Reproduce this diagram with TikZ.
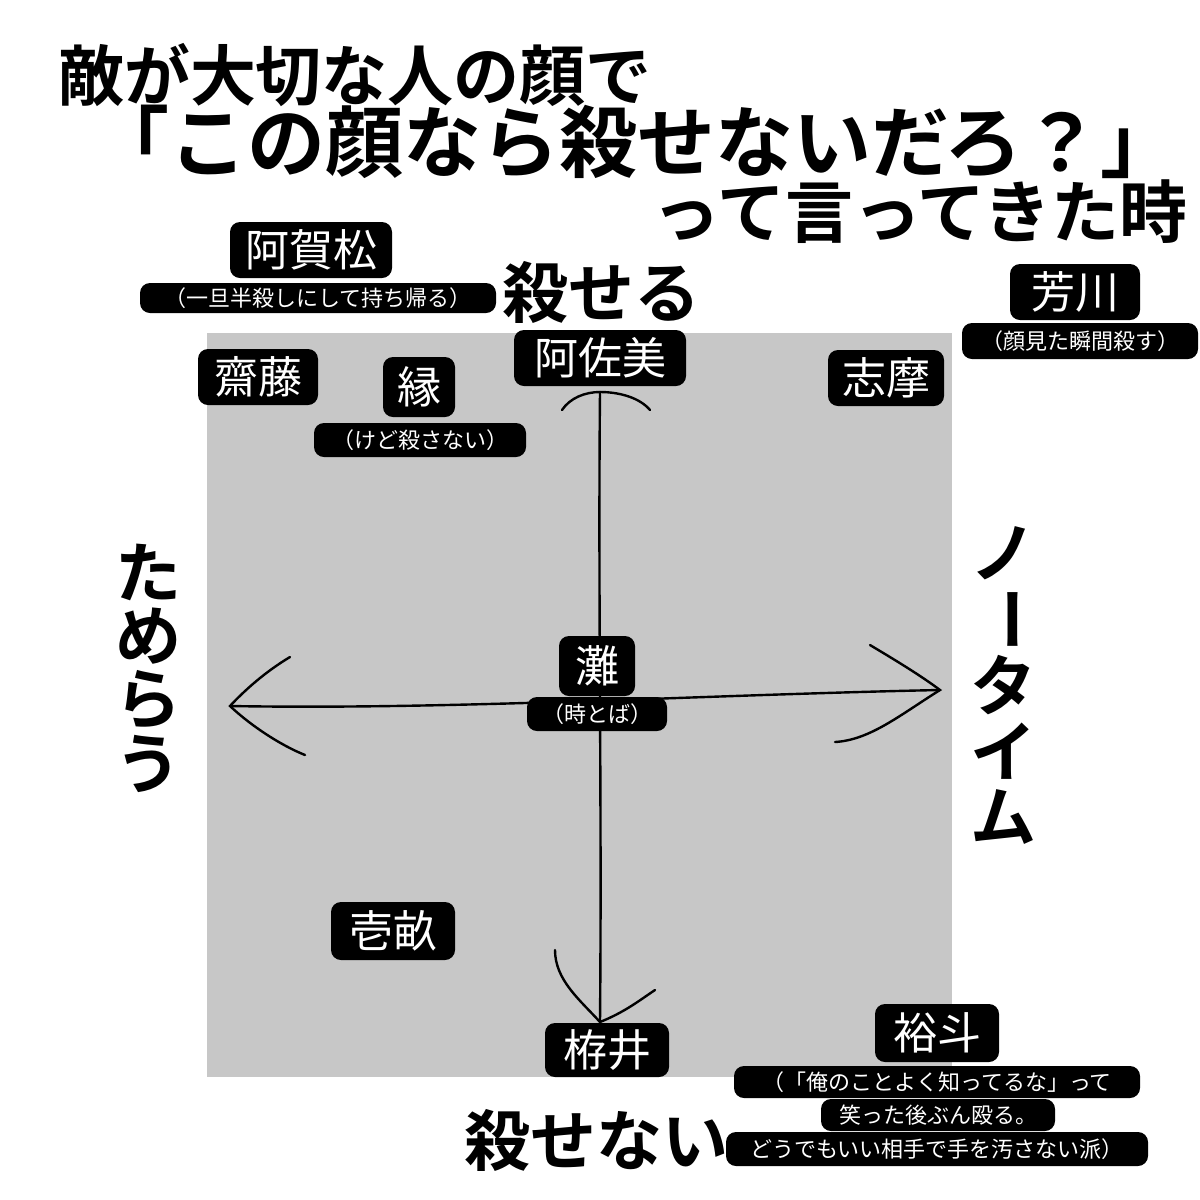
\documentclass[tikz,border=0pt]{standalone}
\usepackage{fontspec}
\setmainfont{Noto Sans CJK JP}[BoldFont={Noto Sans CJK JP Bold}]
\begin{document}
\begin{tikzpicture}[x=0.5pt,y=-0.5pt]
\tikzset{
 nm/.style={fill=black,text=white,rounded corners=5pt,font=\fontsize{22}{22}\selectfont,inner sep=0pt},
 sub/.style={fill=black,text=white,rounded corners=5pt,font=\fontsize{11}{11}\selectfont,inner sep=0pt},
 ttl/.style={font=\bfseries\fontsize{33}{33}\selectfont,inner sep=0pt},
 ax/.style={font=\bfseries\fontsize{33}{33}\selectfont,inner sep=0pt},
 arr/.style={line width=1.2pt,line cap=round}
}
\useasboundingbox (0,0) rectangle (1200,1200);
\fill[white] (0,0) rectangle (1200,1200);
\fill[black!22] (207,333) rectangle (952,1077);
% titles
\node[ttl] (t1) at (355,75) {敵が大切な人の顔で};
\node[ttl,font=\bfseries\fontsize{39}{39}\selectfont] (t2) at (635,142) {「この顔なら殺せないだろ？」};
\node[ttl,font=\bfseries\fontsize{34}{34}\selectfont] (t3) at (920,212) {って言ってきた時};
% axis labels
\node[ax] (up) at (601,292) {殺せる};
\node[ax] (dn) at (596,1140) {殺せない};
\foreach \c [count=\i] in {た,め,ら,う}
  \node[ax] (l\i) at (148,508+64*\i) {\c};
\node[ax] (r1) at (1003,553) {ノ};
\node[ax,rotate=-90] (r2) at (1003,619) {ー};
\node[ax] (r3) at (1003,685) {タ};
\node[ax] (r4) at (1003,751) {イ};
\node[ax] (r5) at (1003,817) {ム};
% arrows
\coordinate (vt) at (600,392); \coordinate (vb) at (600,1022);
\coordinate (hl) at (230,706); \coordinate (hr) at (940,690);
\draw[arr] (vt) .. controls (598,600) and (602,800) .. (vb);
\draw[arr] (562,410) .. controls (570,398) and (585,392) .. (vt);
\draw[arr] (650,410) .. controls (640,398) and (620,392) .. (vt);
\draw[arr] (hl) .. controls (450,710) and (700,695) .. (hr);
\draw[arr] (290,657) .. controls (265,672) and (245,690) .. (hl) .. controls (250,725) and (280,745) .. (305,755);
\draw[arr] (870,645) .. controls (895,660) and (920,675) .. (hr) .. controls (900,715) and (870,740) .. (835,742);
\draw[arr] (555,950) .. controls (555,980) and (580,1000) .. (vb);
\draw[arr] (655,990) .. controls (640,1000) and (625,1012) .. (vb);
% names
\node[nm,minimum width=81pt,minimum height=28pt] (agm) at (311,250) {阿賀松};
\node[sub,minimum width=178pt,minimum height=15pt] (agms) at (318,298) {（一旦半殺しにして持ち帰る）};
\node[nm,minimum width=65pt,minimum height=28pt] (ysk) at (1075,292) {芳川};
\node[sub,minimum width=118pt,minimum height=18pt] (ysks) at (1080,341) {（顔見た瞬間殺す）};
\node[nm,minimum width=60pt,minimum height=28pt] (sai) at (258,377) {齋藤};
\node[nm,minimum width=36pt,minimum height=30pt] (yk) at (419,387) {縁};
\node[sub,minimum width=106pt,minimum height=17pt] (yks) at (420,440) {（けど殺さない）};
\node[nm,minimum width=86pt,minimum height=28pt] (asm) at (600,358) {阿佐美};
\node[nm,minimum width=58pt,minimum height=28pt] (sm) at (886,378) {志摩};
\node[nm,minimum width=38pt,minimum height=30pt] (nd) at (597,666) {灘};
\node[sub,minimum width=70pt,minimum height=17pt] (nds) at (597,714) {（時とば）};
\node[nm,minimum width=62pt,minimum height=29pt] (ich) at (393,931) {壱畝};
\node[nm,minimum width=62pt,minimum height=27pt] (kk) at (607,1050) {栫井};
\node[nm,minimum width=62pt,minimum height=29pt] (yt) at (937,1033) {裕斗};
\node[sub,minimum width=203pt,minimum height=16pt] (yt1) at (937,1082) {（「俺のことよく知ってるな」って};
\node[sub,minimum width=117pt,minimum height=16pt] (yt2) at (938,1115) {笑った後ぶん殴る。};
\node[sub,minimum width=211pt,minimum height=17pt] (yt3) at (937,1149) {どうでもいい相手で手を汚さない派）};
\end{tikzpicture}
\end{document}
